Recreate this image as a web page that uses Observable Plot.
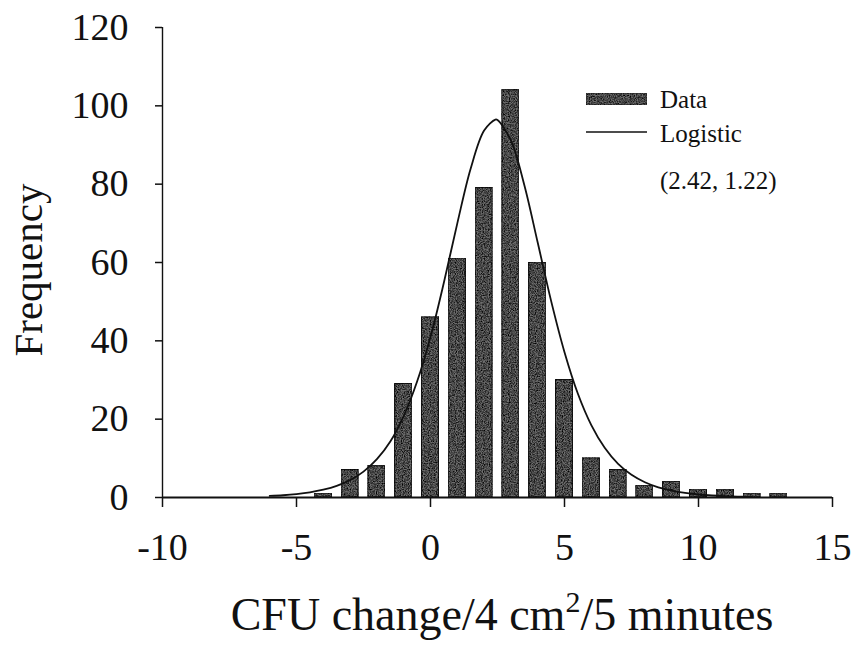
<!DOCTYPE html>
<html>
<head>
<meta charset="utf-8">
<script src="https://cdn.jsdelivr.net/npm/d3@7"></script>
<script src="https://cdn.jsdelivr.net/npm/@observablehq/plot@0.6"></script>
<style>
  html, body { margin: 0; padding: 0; background: #fff; }
  #chart svg { display: block; }
</style>
</head>
<body>
<div id="chart"></div>
<script>
// ---- data ----
const binCenters = [-4, -3, -2, -1, 0, 1, 2, 3, 4, 5, 6, 7, 8, 9, 10, 11, 12, 13];
const frequencies = [1, 7, 8, 29, 46, 61, 79, 104, 60, 30, 10, 7, 3, 4, 2, 2, 1, 1];

// fitted logistic curve
const curveX = [-6, -5.5, -5, -4.5, -4, -3.5, -3, -2.5, -2, -1.5, -1, -0.5, 0, 0.5, 1, 1.5, 2, 2.42, 2.5, 3, 3.5, 4, 4.5, 5, 5.5, 6, 6.5, 7, 7.5, 8, 8.5, 9, 9.5, 10, 10.5, 11, 11.5, 12];
const curveY = [0.39, 0.58, 0.88, 1.32, 1.99, 2.97, 4.44, 6.61, 9.78, 14.3, 20.8, 29.6, 41.0, 54.9, 70.0, 84.0, 93.7, 96.5, 96.4, 91.2, 79.8, 65.1, 50.2, 37.1, 26.5, 18.5, 12.7, 8.6, 5.8, 3.9, 2.6, 1.75, 1.16, 0.77, 0.51, 0.34, 0.23, 0.15];

const xTicks = [-10, -5, 0, 5, 10, 15];
const yTicks = [0, 20, 40, 60, 80, 100, 120];
const xTitle = ["CFU change/4 cm", "2", "/5 minutes"];
const yTitle = "Frequency";
const legendLabels = ["Data", "Logistic"];
const fitParams = "(2.42, 1.22)";

const bars = binCenters.map((x, i) => ({x, y: frequencies[i]}));
const curve = curveX.map((x, i) => ({x, y: curveY[i]}));
const halfWidth = 0.32;

const font = "'Liberation Serif', 'Times New Roman', serif";
const barFill = "#6e6e6e";

const plot = Plot.plot({
  width: 853,
  height: 649,
  marginLeft: 162,
  marginRight: 21,
  marginTop: 27,
  marginBottom: 152,
  style: {fontFamily: font, background: "#fff", color: "#111"},
  x: {domain: [-10, 15]},
  y: {domain: [0, 120]},
  marks: [
    Plot.rectY(bars, {
      x1: d => d.x - halfWidth,
      x2: d => d.x + halfWidth,
      y: "y",
      fill: barFill,
      stroke: "#1a1a1a",
      strokeWidth: 1.2
    }),
    Plot.line(curve, {x: "x", y: "y", curve: "catmull-rom", stroke: "#111", strokeWidth: 1.8}),
    Plot.ruleY([0], {stroke: "#111", strokeWidth: 1.8}),
    Plot.ruleX([-10], {y1: 0, y2: 120, stroke: "#111", strokeWidth: 1.4}),
    Plot.axisX({ticks: xTicks, tickSize: 10, tickPadding: 26, fontSize: 38, tickFormat: d => String(d), stroke: "#111", strokeWidth: 1.5, strokeOpacity: 1, label: null}),
    Plot.axisY({ticks: yTicks, tickSize: 7, tickPadding: 27, fontSize: 38, stroke: "#111", strokeWidth: 1.5, strokeOpacity: 1, label: null})
  ]
});

document.getElementById("chart").appendChild(plot);

const svg = d3.select(plot);
svg.selectAll("g[aria-label='x-axis tick label'] text, g[aria-label='y-axis tick label'] text").attr("fill", "#111");

// grainy printed texture for the bars
const defs = svg.insert("defs", ":first-child");
const f = defs.append("filter").attr("id", "grain")
  .attr("x", "0").attr("y", "0").attr("width", "1").attr("height", "1")
  .attr("filterUnits", "objectBoundingBox")
  .attr("color-interpolation-filters", "sRGB");
f.append("feTurbulence").attr("type", "fractalNoise").attr("baseFrequency", "0.85")
  .attr("numOctaves", "2").attr("seed", "7").attr("result", "noise");
f.append("feColorMatrix").attr("in", "noise").attr("type", "saturate").attr("values", "0").attr("result", "gray");
const ct = f.append("feComponentTransfer").attr("in", "gray").attr("result", "contrast");
["feFuncR", "feFuncG", "feFuncB"].forEach(n =>
  ct.append(n).attr("type", "linear").attr("slope", "2.8").attr("intercept", "-0.75"));
ct.append("feFuncA").attr("type", "linear").attr("slope", "0").attr("intercept", "1");
f.append("feBlend").attr("in", "SourceGraphic").attr("in2", "contrast").attr("mode", "multiply").attr("result", "blend");
f.append("feComposite").attr("in", "blend").attr("in2", "SourceGraphic").attr("operator", "in");

// every rect drawn by Plot here is a histogram bar
svg.selectAll("rect").attr("filter", "url(#grain)");

// axis titles
const xt = svg.append("text")
  .attr("x", 502).attr("y", 630)
  .attr("text-anchor", "middle")
  .attr("font-family", font)
  .attr("font-size", 46)
  .attr("fill", "#111");
xt.append("tspan").text(xTitle[0]);
xt.append("tspan").attr("dy", -18).attr("font-size", 30).text(xTitle[1]);
xt.append("tspan").attr("dy", 18).text(xTitle[2]);

svg.append("text")
  .attr("transform", "translate(42,270) rotate(-90)")
  .attr("text-anchor", "middle")
  .attr("font-family", font)
  .attr("font-size", 41)
  .attr("fill", "#111")
  .text(yTitle);

// legend
const lg = svg.append("g").attr("font-family", font).attr("fill", "#111").attr("text-anchor", "start");
lg.append("rect").attr("x", 586).attr("y", 93).attr("width", 61).attr("height", 12)
  .attr("fill", barFill).attr("stroke", "#333").attr("stroke-width", 1).attr("filter", "url(#grain)");
lg.append("text").attr("x", 660).attr("y", 108).attr("font-size", 25).text(legendLabels[0]);
lg.append("line").attr("x1", 586).attr("x2", 647).attr("y1", 132).attr("y2", 132)
  .attr("stroke", "#111").attr("stroke-width", 1.7);
lg.append("text").attr("x", 660).attr("y", 142).attr("font-size", 25).text(legendLabels[1]);
lg.append("text").attr("x", 660).attr("y", 189).attr("font-size", 25).text(fitParams);
</script>
</body>
</html>
